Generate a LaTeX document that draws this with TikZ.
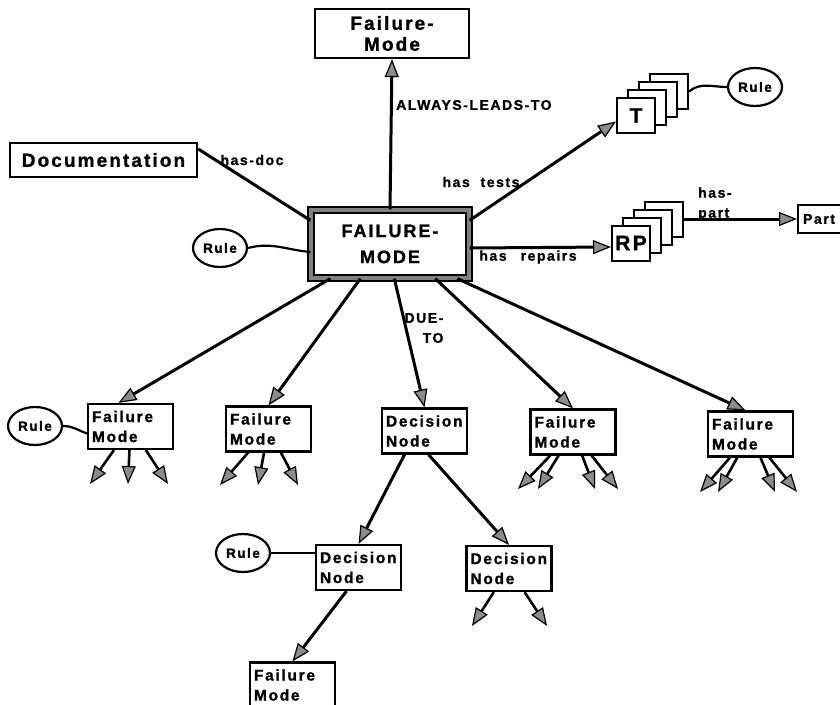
\documentclass[tikz,border=0pt]{standalone}
\usepackage{fontspec}
\setmainfont{Liberation Sans}
\newfontfamily\chartfont{Liberation Sans}[LetterSpace=11, BoldFeatures={FakeBold=1.2}]
\usetikzlibrary{arrows.meta,positioning,calc,shapes.geometric}
\tikzset{
  fmbox/.style={draw, line width=2.2pt, fill=white, align=left, inner xsep=4pt, inner ysep=2pt,
    text width=77pt, minimum height=45pt, font=\chartfont\bfseries\fontsize{15.5}{20}\selectfont},
  mainbox/.style={draw=black, line width=1.3pt, double=black!50, double distance=4.5pt, align=center,
    minimum width=158pt, minimum height=68pt, font=\chartfont\bfseries\fontsize{18}{26}\selectfont},
  topbox/.style={draw, line width=2.2pt, align=center, minimum width=154pt, minimum height=49pt,
    inner sep=2pt, font=\chartfont\bfseries\fontsize{19}{21}\selectfont},
  docbox/.style={draw, line width=2.2pt, minimum width=187pt, minimum height=34pt, inner sep=2pt,
    font=\chartfont\bfseries\fontsize{19}{21}\selectfont},
  stackbox/.style={draw, line width=2pt, fill=white, minimum width=38pt, minimum height=35pt,
    inner sep=0pt, font=\chartfont\bfseries\fontsize{21}{21}\selectfont},
  partbox/.style={draw, line width=2.2pt, fill=white, text width=50pt, minimum height=28pt,
    inner xsep=5pt, align=left, font=\chartfont\bfseries\fontsize{14}{17}\selectfont},
  rulenode/.style={ellipse, draw, line width=2.2pt, fill=white, minimum width=54pt, minimum height=38pt,
    inner sep=0pt, font=\chartfont\bfseries\fontsize{13.5}{14}\selectfont},
  edgelbl/.style={inner sep=1pt, font=\chartfont\bfseries\fontsize{14}{20}\selectfont},
  link/.style={line width=3pt},
  rulelink/.style={line width=2.2pt},
  arr/.style={link, -{Triangle[length=18pt,width=14pt,fill=black!45,line width=1.2pt]}},
  stub/.style={arr, line width=2.6pt}
}
\begin{document}
\begin{tikzpicture}[x=1pt, y=-1pt]
\useasboundingbox[fill=white] (0,0) rectangle (840,704);

% top part
\node[mainbox] (fmode) at (390,244) {FAILURE-\\MODE};
\node[topbox] (leads) at (392,33.5) {Failure-\\Mode};
\node[docbox] (doc) at (103.5,160) {Documentation};
\node[rulenode] (rulemain) at (220,248) {Rule};

% stacks of tests and repairs
\coordinate (tpos) at (636,115.5);
\foreach \k in {3,2,1}
  \node[stackbox] (tcard\k) at ($(tpos)+(11*\k,-8*\k)$) {};
\node[stackbox] (tcard0) at (tpos) {T};
\coordinate (rppos) at (631,243);
\foreach \k in {3,2,1}
  \node[stackbox] (rpcard\k) at ($(rppos)+(11*\k,-8*\k)$) {};
\node[stackbox] (rpcard0) at (rppos) {RP};
\node[rulenode] (ruletest) at (755,87) {Rule};
\node[partbox, anchor=west] (part) at (797,219) {Part};

% lower rows
\node[fmbox] (fmA) at (130.5,426.5) {Failure\\Mode};
\node[rulenode] (ruleA) at (35,426) {Rule};
\node[fmbox] (fmB) at (268.5,429) {Failure\\Mode};
\node[fmbox] (decA) at (424.5,431) {Decision\\Node};
\node[fmbox] (fmC) at (573,432) {Failure\\Mode};
\node[fmbox] (fmD) at (750.5,434) {Failure\\Mode};
\node[fmbox] (decB) at (358.5,567.5) {Decision\\Node};
\node[fmbox] (decC) at (509,568.5) {Decision\\Node};
\node[rulenode] (ruleB) at (243,553) {Rule};
\node[fmbox] (fmE) at (292.5,685) {Failure\\Mode};

% links from the centre
\draw[link] ([yshift=-7pt]doc.north east) -- ([yshift=-11pt]fmode.north west);
\draw[rulelink] (rulemain.east) to[out=15,in=175] ([yshift=-8pt]fmode.west);
\draw[arr] (fmode.north) -- (leads.south);
\draw[arr] ([yshift=-11pt]fmode.north east) -- ([yshift=-6pt]tcard0.west);
\draw[arr] ([yshift=-4pt]fmode.east) -- ([yshift=-4pt]rpcard0.west);
\draw[arr] (rpcard3.east) -- (part.west);
\draw[rulelink] (tcard3.east) to[out=40,in=180] (ruletest.west);

\draw[arr] ([xshift=20pt]fmode.south west) -- ([xshift=-12pt]fmA.north);
\draw[arr] ([xshift=50pt]fmode.south west) -- (fmB.north);
\draw[arr] ([xshift=84pt]fmode.south west) -- (decA.north);
\draw[arr] ([xshift=125pt]fmode.south west) -- (fmC.north);
\draw[arr] ([xshift=147pt]fmode.south west) -- ([xshift=-5pt]fmD.north);

\draw[rulelink] (ruleA.east) to[out=0,in=160] ([yshift=-7pt]fmA.west);
\draw[rulelink] (ruleB) -- (ruleB -| decB.west);
\draw[arr] ([xshift=-20pt]decA.south) -- (decB.north);
\draw[arr] ([xshift=4pt]decA.south) -- (decC.north);
\draw[arr] ([xshift=-12pt]decB.south) -- (fmE.north);

% open-ended arrows
\foreach \n/\x in {1/90,2/128,3/168}{
  \coordinate (fmA-\n) at (\x,484);
  \draw[stub] (fmA) -- (fmA-\n);
}
\foreach \n/\x in {1/220,2/258,3/298}{
  \coordinate (fmB-\n) at (\x,485);
  \draw[stub] (fmB) -- (fmB-\n);
}
\foreach \n/\x in {1/518,2/538,3/595,4/618}{
  \coordinate (fmC-\n) at (\x,489);
  \draw[stub] (fmC) -- (fmC-\n);
}
\foreach \n/\x in {1/700,2/718,3/775,4/797}{
  \coordinate (fmD-\n) at (\x,492);
  \draw[stub] (fmD) -- (fmD-\n);
}
\foreach \n/\x in {1/472,2/547}{
  \coordinate (decC-\n) at (\x,626);
  \draw[stub] (decC) -- (decC-\n);
}

% link labels
\node[edgelbl] (doclbl) at (252,160) {has-doc};
\node[edgelbl, anchor=west] (leadlbl) at (395,105) {ALWAYS-LEADS-TO};
\node[edgelbl] (testlbl) at (481,182) {has\ \ tests};
\node[edgelbl] (replbl) at (528,257) {has\quad repairs};
\node[edgelbl, align=left, anchor=west] (partlbl) at (697,204) {has-\\part};
\node[edgelbl, align=right] (duelbl) at (424,328) {DUE-\\TO};
\end{tikzpicture}
\end{document}
